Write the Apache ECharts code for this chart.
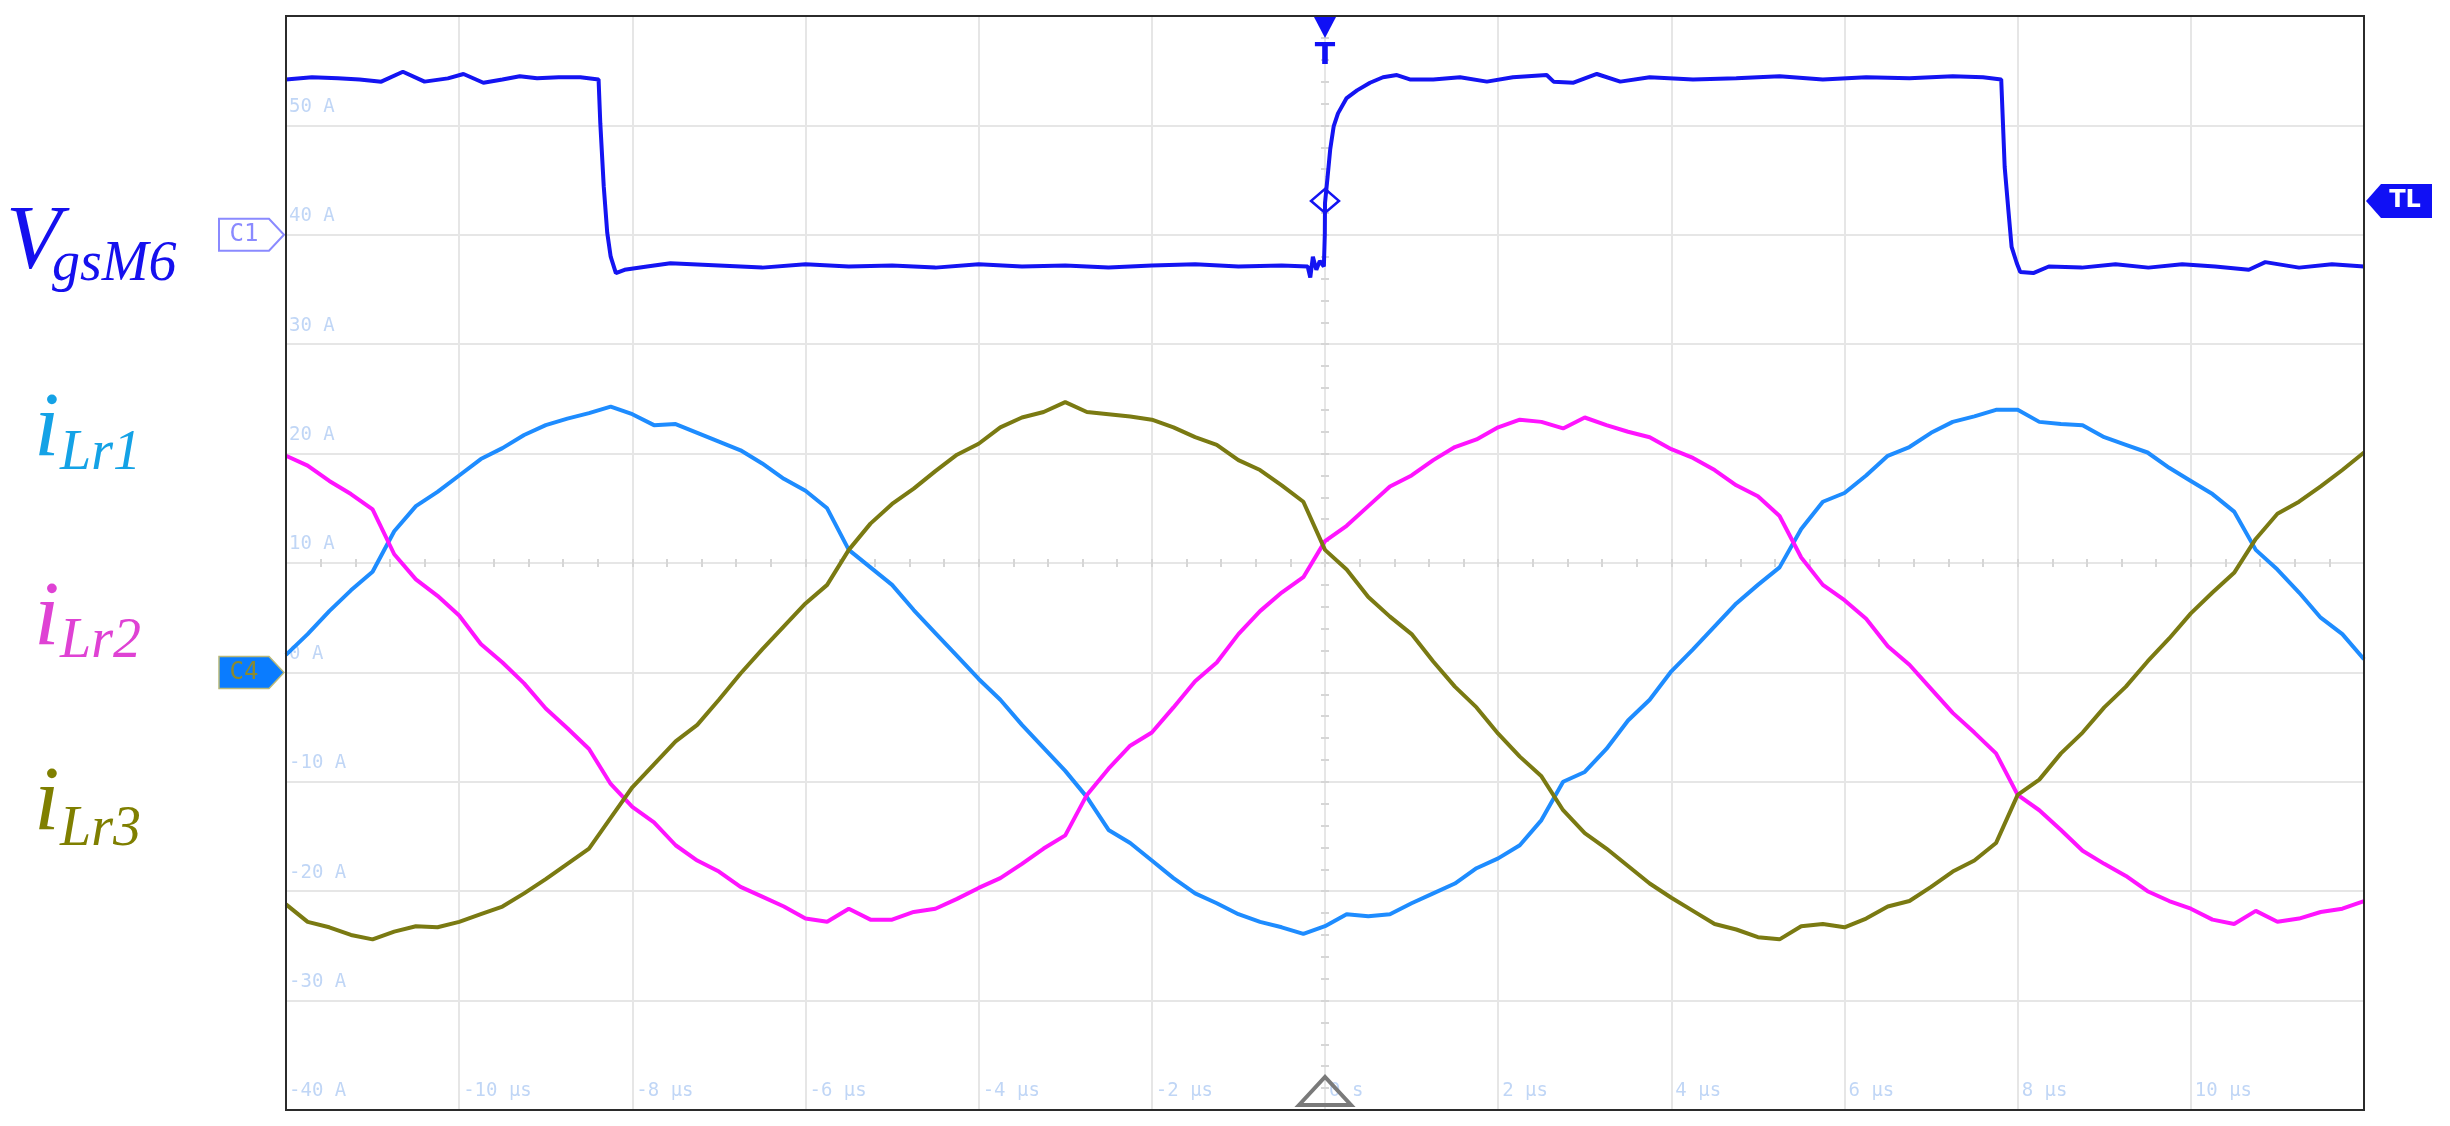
<!DOCTYPE html>
<html>
<head>
<meta charset="utf-8">
<title>VgsM6 / iLr1 iLr2 iLr3</title>
<script src="https://cdn.jsdelivr.net/npm/echarts@6/dist/echarts.min.js"></script>
<style>
html, body { margin: 0; padding: 0; background: #fff; }
#chartArea { width: 2450px; height: 1126px; }
</style>
</head>
<body>
<div id="chartArea"></div>
<script>
// sample times of the three resonant currents, in µs
var tI = [-12, -11.75, -11.5, -11.25, -11, -10.75, -10.5, -10.25, -10, -9.75,
  -9.5, -9.25, -9, -8.75, -8.5, -8.25, -8, -7.75, -7.5, -7.25,
  -7, -6.75, -6.5, -6.25, -6, -5.75, -5.5, -5.25, -5, -4.75,
  -4.5, -4.25, -4, -3.75, -3.5, -3.25, -3, -2.75, -2.5, -2.25,
  -2, -1.75, -1.5, -1.25, -1, -0.75, -0.5, -0.25, 0, 0.25,
  0.5, 0.75, 1, 1.25, 1.5, 1.75, 2, 2.25, 2.5, 2.75,
  3, 3.25, 3.5, 3.75, 4, 4.25, 4.5, 4.75, 5, 5.25,
  5.5, 5.75, 6, 6.25, 6.5, 6.75, 7, 7.25, 7.5, 7.75,
  8, 8.25, 8.5, 8.75, 9, 9.25, 9.5, 9.75, 10, 10.25,
  10.5, 10.75, 11, 11.25, 11.5, 11.75, 12];

var iLr1 = [1.6, 3.5, 5.6, 7.5, 9.2, 12.9, 15.2, 16.5, 18.0, 19.5,
  20.5, 21.7, 22.6, 23.2, 23.7, 24.3, 23.6, 22.6, 22.7, 21.9,
  21.1, 20.3, 19.1, 17.7, 16.6, 15.0, 11.2, 9.6, 8.0, 5.7,
  3.6, 1.5, -0.6, -2.5, -4.8, -6.9, -9.0, -11.4, -14.4, -15.6,
  -17.2, -18.8, -20.2, -21.1, -22.1, -22.8, -23.3, -23.9, -23.2, -22.1,
  -22.3, -22.1, -21.1, -20.2, -19.3, -17.9, -17.0, -15.8, -13.5, -10.0,
  -9.1, -7.0, -4.4, -2.5, 0.1, 2.1, 4.2, 6.3, 8.0, 9.6,
  13.1, 15.6, 16.4, 18.0, 19.8, 20.6, 21.9, 22.9, 23.4, 24.0,
  24.0, 22.9, 22.7, 22.6, 21.5, 20.8, 20.1, 18.7, 17.5, 16.3,
  14.7, 11.2, 9.4, 7.3, 5.0, 3.5, 1.2];

var iLr2 = [19.8, 18.9, 17.5, 16.3, 14.9, 10.8, 8.5, 7.0, 5.2, 2.6,
  0.9, -1.0, -3.3, -5.1, -7.0, -10.2, -12.3, -13.7, -15.8, -17.2,
  -18.2, -19.6, -20.5, -21.4, -22.5, -22.8, -21.6, -22.6, -22.6, -21.9,
  -21.6, -20.7, -19.7, -18.8, -17.5, -16.1, -14.9, -11.2, -8.8, -6.7,
  -5.5, -3.2, -0.8, 0.9, 3.5, 5.6, 7.3, 8.7, 12.0, 13.4,
  15.2, 17.0, 18.0, 19.4, 20.6, 21.3, 22.4, 23.1, 22.9, 22.3,
  23.3, 22.6, 22.0, 21.5, 20.4, 19.6, 18.5, 17.1, 16.1, 14.3,
  10.5, 8.0, 6.6, 4.9, 2.4, 0.7, -1.5, -3.7, -5.5, -7.4,
  -11.2, -12.6, -14.4, -16.3, -17.5, -18.6, -20.0, -20.9, -21.6, -22.6,
  -23.0, -21.8, -22.8, -22.5, -21.9, -21.6, -20.9];

var iLr3 = [-21.2, -22.8, -23.3, -24.0, -24.4, -23.7, -23.2, -23.3, -22.8, -22.1,
  -21.4, -20.2, -18.9, -17.5, -16.1, -13.3, -10.5, -8.4, -6.3, -4.8,
  -2.5, -0.1, 2.1, 4.2, 6.3, 8.0, 11.2, 13.6, 15.4, 16.8,
  18.4, 19.9, 20.9, 22.4, 23.3, 23.8, 24.7, 23.8, 23.6, 23.4,
  23.1, 22.4, 21.5, 20.8, 19.4, 18.5, 17.1, 15.6, 11.2, 9.4,
  6.9, 5.1, 3.5, 1.0, -1.3, -3.2, -5.6, -7.7, -9.5, -12.6,
  -14.7, -16.1, -17.7, -19.3, -20.6, -21.8, -23.0, -23.5, -24.2, -24.4,
  -23.2, -23.0, -23.3, -22.5, -21.4, -20.9, -19.6, -18.2, -17.2, -15.6,
  -11.2, -9.8, -7.4, -5.5, -3.2, -1.3, 1.0, 3.1, 5.4, 7.3,
  9.1, 12.2, 14.5, 15.6, 17.0, 18.5, 20.1];

// gate signal: denser samples around the edges
var tV = [-12, -11.7, -11.4, -11.15, -10.9, -10.65, -10.4, -10.13, -9.95, -9.72,
  -9.5, -9.3, -9.1, -8.85, -8.6, -8.39, -8.37, -8.33, -8.29, -8.25,
  -8.19, -8.09, -7.83, -7.56, -7.0, -6.5, -6.0, -5.5, -5.0, -4.5,
  -4.0, -3.5, -3.0, -2.5, -2.0, -1.5, -1.0, -0.5, -0.2, -0.17,
  -0.14, -0.1, -0.06, -0.013, -0.002, 0, 0.03, 0.06, 0.1, 0.15,
  0.25, 0.37, 0.52, 0.67, 0.83, 0.98, 1.25, 1.56, 1.87, 2.17,
  2.56, 2.64, 2.87, 3.14, 3.41, 3.75, 4.25, 4.75, 5.25, 5.75,
  6.25, 6.75, 7.25, 7.6, 7.81, 7.83, 7.85, 7.89, 7.93, 7.99,
  8.03, 8.18, 8.36, 8.74, 9.13, 9.51, 9.9, 10.28, 10.67, 10.86,
  11.25, 11.63, 12];

var vgsM6 = [54.2, 54.4, 54.3, 54.2, 54.0, 54.9, 54.0, 54.3, 54.7, 53.9,
  54.2, 54.5, 54.3, 54.4, 54.4, 54.2, 50.2, 44.4, 40.2, 38.0,
  36.5, 36.8, 37.1, 37.4, 37.2, 37.0, 37.3, 37.1, 37.2, 37.0,
  37.3, 37.1, 37.2, 37.0, 37.2, 37.3, 37.1, 37.2, 37.1, 36.1,
  38.0, 36.8, 37.6, 37.1, 40.1, 42.9, 45.3, 47.8, 49.9, 51.1,
  52.5, 53.2, 53.9, 54.4, 54.6, 54.2, 54.2, 54.4, 54.0, 54.4,
  54.6, 54.0, 53.9, 54.7, 54.0, 54.4, 54.2, 54.3, 54.5, 54.2,
  54.4, 54.3, 54.5, 54.4, 54.2, 50.2, 46.2, 42.5, 38.9, 37.4,
  36.6, 36.5, 37.1, 37.0, 37.3, 37.0, 37.3, 37.1, 36.8, 37.5,
  37.0, 37.3, 37.1];

var trigLevel = 43.1;
var yUnit = ' A';
var xUnit = ' µs';

var labelFont = 'DejaVu Sans Mono';
var labelColor = '#c0d6f6';
var gridColor = '#e6e6e6';
var tickColor = '#d6d6d6';

function pairs(ts, vs) {
    return ts.map(function (t, i) { return [t, vs[i]]; });
}

function trace(name, color, ts, vs) {
    return {
        name: name,
        type: 'line',
        data: pairs(ts, vs),
        showSymbol: false,
        symbol: 'none',
        silent: true,
        lineStyle: { color: color, width: 4 },
        itemStyle: { color: color },
        z: 3
    };
}

// small ticks along the centre cross of the screen
function centreTicksX(inside) {
    return {
        type: 'value', min: -12, max: 12, interval: 0.4, position: 'bottom',
        axisLine: { show: false, onZero: true, onZeroAxisIndex: 1 },
        axisTick: { show: true, inside: inside, length: 4, lineStyle: { color: tickColor, width: 2 } },
        axisLabel: { show: false },
        splitLine: { show: false }
    };
}
function centreTicksY(inside) {
    return {
        type: 'value', min: -40, max: 60, interval: 2, position: 'left',
        axisLine: { show: false, onZero: true, onZeroAxisIndex: 0 },
        axisTick: { show: true, inside: inside, length: 4, lineStyle: { color: tickColor, width: 2 } },
        axisLabel: { show: false },
        splitLine: { show: false }
    };
}

var vgsSeries = trace('VgsM6', '#1414f2', tV, vgsM6);
vgsSeries.markPoint = {
    symbol: 'diamond',
    symbolSize: [28, 24],
    silent: true,
    label: { show: false },
    itemStyle: { color: 'rgba(0,0,0,0)', borderColor: '#1414f2', borderWidth: 2.5 },
    data: [{ coord: [0, trigLevel] }]
};

var options = {
    backgroundColor: '#ffffff',
    animation: false,
    grid: { left: 286, right: 86, top: 16, bottom: 16, show: false, outerBoundsMode: 'none' },
    xAxis: [
        {
            type: 'value', min: -12, max: 12, interval: 2, position: 'bottom',
            axisLine: { show: false, onZero: false },
            axisTick: { show: false },
            splitLine: { show: true, lineStyle: { color: gridColor, width: 2 } },
            axisLabel: {
                inside: true, margin: 9, align: 'left', verticalAlign: 'bottom',
                padding: [0, 0, 0, 4],
                color: labelColor, fontFamily: labelFont, fontSize: 19,
                showMinLabel: false, showMaxLabel: false,
                formatter: function (v) { return v === 0 ? '0 s' : v + xUnit; }
            }
        },
        centreTicksX(true),
        centreTicksX(false)
    ],
    yAxis: [
        {
            type: 'value', min: -40, max: 60, interval: 10, position: 'left',
            axisLine: { show: false, onZero: false },
            axisTick: { show: false },
            splitLine: { show: true, lineStyle: { color: gridColor, width: 2 } },
            axisLabel: {
                inside: true, margin: 3, verticalAlign: 'bottom',
                padding: [0, 0, 9, 0],
                color: labelColor, fontFamily: labelFont, fontSize: 19,
                showMaxLabel: false,
                formatter: function (v) { return v + yUnit; }
            }
        },
        // helper axis, its zero sits on the centre line (10 A)
        {
            type: 'value', min: -50, max: 50, position: 'right',
            axisLine: { show: false, onZero: false },
            axisTick: { show: false }, axisLabel: { show: false }, splitLine: { show: false }
        },
        centreTicksY(true),
        centreTicksY(false)
    ],
    series: [
        trace('iLr1', '#1e8cff', tI, iLr1),
        trace('iLr2', '#ff14ff', tI, iLr2),
        trace('iLr3', '#7a7a12', tI, iLr3),
        vgsSeries
    ]
};

var myChart = echarts.init(document.getElementById('chartArea'), null, { renderer: 'canvas' });
myChart.setOption(options);

// screen decorations, placed through the axes
function px(t, v) { return myChart.convertToPixel({ xAxisIndex: 0, yAxisIndex: 0 }, [t, v]); }
var tl = px(-12, 60), br = px(12, -40);
var x0 = px(0, 0)[0];
var yTrig = px(0, trigLevel)[1];
var yC1 = px(0, 40)[1];
var yC4 = px(0, 0)[1];

function sub(x, y, text, size, color) {
    return { type: 'text', x: x, y: y, silent: true, z: 50,
        style: { text: text, font: 'italic ' + size + 'px "Liberation Serif"', fill: color, align: 'left', verticalAlign: 'middle' } };
}

var graphics = [
    // screen frame
    { type: 'rect', silent: true, z: 100,
      shape: { x: tl[0], y: tl[1], width: br[0] - tl[0], height: br[1] - tl[1] },
      style: { fill: 'none', stroke: '#2b2b2b', lineWidth: 2 } },
    // C1 channel marker
    { type: 'polygon', silent: true, z: 60,
      shape: { points: [[219, yC1 - 16], [269, yC1 - 16], [284, yC1], [269, yC1 + 16], [219, yC1 + 16]] },
      style: { fill: '#ffffff', stroke: '#8a8aff', lineWidth: 2 } },
    { type: 'text', x: 244, y: yC1, silent: true, z: 61,
      style: { text: 'C1', font: '24px "DejaVu Sans Mono"', fill: '#8a8aff', align: 'center', verticalAlign: 'middle' } },
    // C4 channel marker
    { type: 'polygon', silent: true, z: 60,
      shape: { points: [[219, yC4 - 16], [269, yC4 - 16], [284, yC4], [269, yC4 + 16], [219, yC4 + 16]] },
      style: { fill: '#0a7cff', stroke: '#b8b878', lineWidth: 1.5 } },
    { type: 'text', x: 244, y: yC4, silent: true, z: 61,
      style: { text: 'C4', font: '24px "DejaVu Sans Mono"', fill: '#8a8a30', align: 'center', verticalAlign: 'middle' } },
    // trigger level marker
    { type: 'polygon', silent: true, z: 60,
      shape: { points: [[br[0] + 2, yTrig], [br[0] + 17, yTrig - 17], [2432, yTrig - 17], [2432, yTrig + 17], [br[0] + 17, yTrig + 17]] },
      style: { fill: '#1010f5' } },
    { type: 'text', x: 2405, y: yTrig, silent: true, z: 61,
      style: { text: 'TL', font: 'bold 24px "DejaVu Sans"', fill: '#ffffff', align: 'center', verticalAlign: 'middle' } },
    // trigger position marker
    { type: 'polygon', silent: true, z: 110,
      shape: { points: [[x0 - 11, tl[1] + 1], [x0 + 11, tl[1] + 1], [x0, tl[1] + 22]] },
      style: { fill: '#1010f5' } },
    { type: 'text', x: x0, y: tl[1] + 40, silent: true, z: 110,
      style: { text: 'T', font: 'bold 30px "DejaVu Sans"', fill: '#1010f5', align: 'center', verticalAlign: 'middle' } },
    // time reference marker at the bottom
    { type: 'polygon', silent: true, z: 110,
      shape: { points: [[x0 - 26, br[1] - 5], [x0, br[1] - 33], [x0 + 26, br[1] - 5]] },
      style: { fill: 'none', stroke: '#7a7a7a', lineWidth: 4 } },
    // trace names
    sub(6, 244, 'V', 90, '#1510ee'),
    sub(52, 265, 'gsM6', 56, '#1510ee'),
    sub(34, 431, 'i', 92, '#14a2e6'),
    sub(60, 454, 'Lr1', 56, '#14a2e6'),
    sub(34, 620, 'i', 92, '#df42d4'),
    sub(60, 642, 'Lr2', 56, '#df42d4'),
    sub(34, 805, 'i', 92, '#7f7f00'),
    sub(60, 830, 'Lr3', 56, '#7f7f00')
];

myChart.setOption({ graphic: graphics });
</script>
</body>
</html>
